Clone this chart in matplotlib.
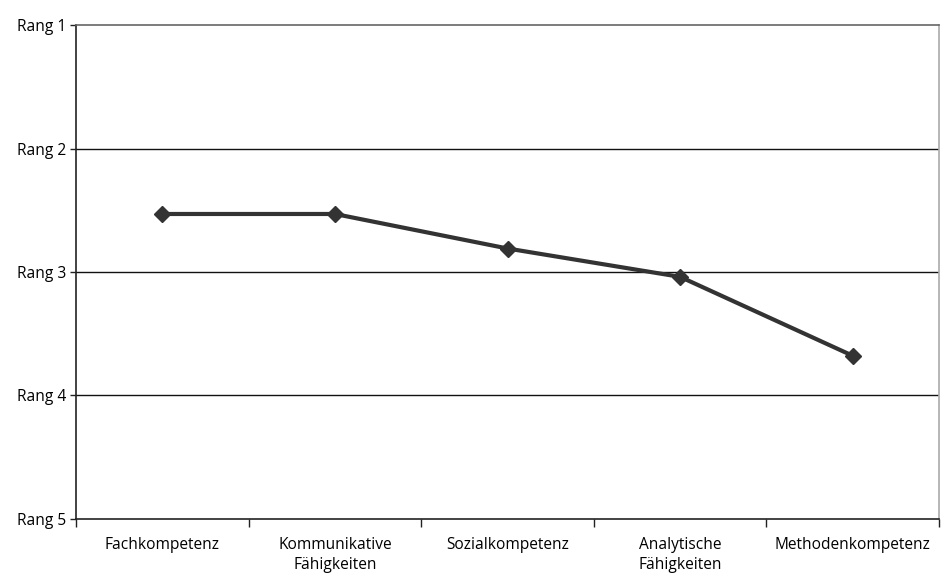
import matplotlib
matplotlib.use("Agg")
import matplotlib.pyplot as plt

categories = ["Fachkompetenz", "Kommunikative\nFähigkeiten", "Sozialkompetenz",
              "Analytische\nFähigkeiten", "Methodenkompetenz"]
ranks = [2.53, 2.53, 2.81, 3.04, 3.68]
rank_ticks = [1, 2, 3, 4, 5]
rank_labels = ["Rang 1", "Rang 2", "Rang 3", "Rang 4", "Rang 5"]

plt.rcParams['font.family'] = ['Open Sans', 'DejaVu Sans']

fig = plt.figure(figsize=(9.47, 5.76), dpi=100)
ax = fig.add_axes([0.0803, 0.0998, 0.9113, 0.8562])

x = list(range(len(categories)))
ax.plot(x, ranks, color='#333333', linewidth=3, marker='D', markersize=8,
        markerfacecolor='#333333', markeredgecolor='#333333', zorder=3)

ax.set_xlim(-0.5, len(categories) - 0.5)
ax.set_ylim(5, 1)
ax.set_yticks(rank_ticks)
ax.set_yticklabels(rank_labels, fontsize=11.2)
ax.set_xticks(x)
ax.set_xticklabels(categories, fontsize=11.2, linespacing=1.4)
ax.tick_params(axis='x', length=0, pad=13)
ax.tick_params(axis='y', length=4, width=1, color='#222222', pad=3)

# category boundary ticks
ax.set_xticks([i - 0.5 for i in range(len(categories) + 1)], minor=True)
ax.tick_params(axis='x', which='minor', length=6, width=1, color='#222222', direction='out')

for r in rank_ticks[1:4]:
    ax.axhline(r, color='#111111', linewidth=1, zorder=1)

ax.spines['top'].set_color('#666666')
ax.spines['top'].set_linewidth(1.2)
ax.spines['right'].set_color('#aaaaaa')
ax.spines['right'].set_linewidth(1.2)
ax.spines['left'].set_color('#222222')
ax.spines['left'].set_linewidth(1.2)
ax.spines['bottom'].set_color('#222222')
ax.spines['bottom'].set_linewidth(1.2)

fig.savefig("out.png", dpi=100, facecolor='white')
